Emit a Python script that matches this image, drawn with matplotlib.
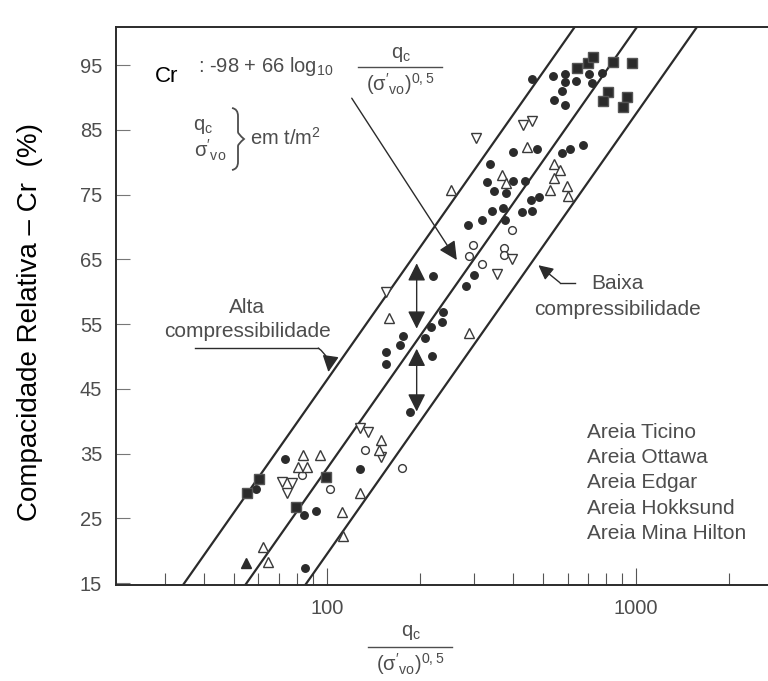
import numpy as np
import matplotlib.pyplot as plt
from matplotlib.ticker import FixedLocator, NullFormatter, FixedFormatter
from matplotlib.path import Path
from matplotlib.patches import PathPatch

plt.rcParams['font.family'] = ['Liberation Sans', 'DejaVu Sans']
plt.rcParams['mathtext.fontset'] = 'custom'
plt.rcParams['mathtext.rm'] = 'Liberation Sans'
plt.rcParams['mathtext.it'] = 'Liberation Sans:italic'
plt.rcParams['mathtext.sf'] = 'Liberation Sans'

# ---- dados ----
# Areia Ticino (circulo cheio)
ticino_x = [459, 540, 589, 589, 640, 706, 774, 719, 575, 544, 589,
            401, 477, 575, 611, 672, 337, 399, 437, 330, 348, 379,
            487, 456, 372, 341, 427, 462, 318, 285, 377,
            299, 282, 221, 238, 235, 217, 208, 176, 172, 155, 155, 218, 186,
            73.1, 58.9, 84.3, 92, 128, 84.9]
ticino_y = [92.9, 93.3, 93.7, 92.4, 92.6, 93.6, 93.8, 92.2, 91.0, 89.7, 88.8,
            81.6, 82.0, 81.4, 82.1, 82.6, 79.8, 77.1, 77.1, 77.0, 75.6, 75.2,
            74.6, 74.2, 72.9, 72.5, 72.3, 72.5, 71.1, 70.3, 71.1,
            62.6, 60.9, 62.5, 56.9, 55.4, 54.5, 52.8, 53.1, 51.8, 50.7, 48.8, 50.0, 41.5,
            34.2, 29.6, 25.5, 26.2, 32.6, 17.4]
# Areia Ottawa (circulo vazio)
ottawa_x = [398, 297, 287, 317, 375, 375, 82.8, 133, 175, 102]
ottawa_y = [69.5, 67.2, 65.5, 64.3, 66.8, 65.7, 31.7, 35.6, 32.7, 29.6]
# Areia Edgar (triangulo invertido vazio)
edgar_x = [304, 432, 460, 398, 354, 155, 71.3, 76.9, 74.1, 128, 136, 149]
edgar_y = [83.7, 85.7, 86.4, 65.1, 62.8, 60.0, 30.6, 30.4, 28.9, 38.9, 38.4, 34.4]
# Areia Hokksund (triangulo vazio)
hokk_x = [443, 367, 380, 252, 543, 568, 543, 527, 597, 604, 159, 287,
          83.8, 80.7, 85.9, 95, 62.2, 64.5, 149, 147, 128, 112, 112.4]
hokk_y = [82.3, 78.0, 76.8, 75.7, 79.8, 78.8, 77.5, 75.7, 76.3, 74.8, 55.9, 53.7,
          34.8, 32.9, 32.9, 34.8, 20.6, 18.3, 37.1, 35.5, 28.9, 26.0, 22.2]
# Areia Mina Hilton (quadrado cheio)
mina_x = [643, 698, 728, 841, 973, 813, 783, 937, 910, 55.2, 60.4, 79.4, 99]
mina_y = [94.6, 95.4, 96.2, 95.5, 95.4, 90.9, 89.4, 90.1, 88.6, 28.9, 31.0, 26.8, 31.4]
# triangulo cheio
extra_x = [54.7]
extra_y = [18.1]

# retas Cr = a + b log10(qc/sqrt(s'vo))
line_a = [-89.6, -103.3, -116.5]
line_b = 68.0

yticks = [15, 25, 35, 45, 55, 65, 75, 85, 95]
xmajor = [100, 1000]
xminor = [30, 40, 50, 60, 70, 80, 90, 200, 300, 400, 500, 600, 700, 800, 900, 2000]
legenda = ['Areia Ticino', 'Areia Ottawa', 'Areia Edgar', 'Areia Hokksund', 'Areia Mina Hilton']

W, H = 768, 681
gray = '#4d4d4d'
dark = '#2b2b2b'

fig = plt.figure(figsize=(W / 100, H / 100), dpi=100)
ax = fig.add_axes([116 / W, 1 - 585 / H, (W - 116) / W, (585 - 27) / H])


def fp(x, y):
    return (x / W, 1 - y / H)


ax.set_xscale('log')
ax.set_xlim(20.75, 2673)
ax.set_ylim(14.7, 100.9)

xs = np.logspace(1.2, 3.6, 300)
for a in line_a:
    ax.plot(xs, a + line_b * np.log10(xs), color=dark, lw=1.6, zorder=2)

ax.plot(ticino_x, ticino_y, 'o', ms=5.4, color=dark, mec=dark, zorder=4)
ax.plot(ottawa_x, ottawa_y, 'o', ms=5.6, mfc='white', mec='#3a3a3a', mew=1.0, zorder=4)
ax.plot(edgar_x, edgar_y, 'v', ms=7.5, mfc='white', mec='#3a3a3a', mew=1.0, zorder=4)
ax.plot(hokk_x, hokk_y, '^', ms=7.5, mfc='white', mec='#3a3a3a', mew=1.0, zorder=4)
ax.plot(mina_x, mina_y, 's', ms=6.8, color=dark, mec='#555555', zorder=4)
ax.plot(extra_x, extra_y, '^', ms=7.5, color=dark, zorder=4)

# eixos
for s in ['left', 'bottom', 'top']:
    ax.spines[s].set_color(dark)
    ax.spines[s].set_linewidth(1.4)
ax.spines['right'].set_visible(False)

ax.yaxis.set_major_locator(FixedLocator(yticks))
ax.yaxis.set_minor_locator(FixedLocator([]))
ax.xaxis.set_major_locator(FixedLocator(xmajor))
ax.xaxis.set_major_formatter(FixedFormatter([str(v) for v in xmajor]))
ax.xaxis.set_minor_locator(FixedLocator(xminor))
ax.xaxis.set_minor_formatter(NullFormatter())
ax.tick_params(axis='y', which='major', direction='in', length=10, width=0.8,
               color='#777777', labelsize=14.5, labelcolor=gray, pad=10)
ax.tick_params(axis='x', which='major', direction='in', length=12, width=0.8,
               color='#555555', labelsize=14.5, labelcolor=gray, pad=10)
ax.tick_params(axis='x', which='minor', direction='in', length=9, width=0.8,
               color='#555555')

# rotulo do eixo y
fig.text(*fp(30, 322), 'Compacidade Relativa \u2013 Cr  (%)', rotation=90,
         ha='center', va='center', fontsize=20, color='black')

# rotulo do eixo x (fracao)
fig.text(*fp(411, 633), r'$\mathrm{q_c}$', ha='center', va='center', fontsize=14.5, color=gray)
fig.add_artist(plt.Line2D([368 / W, 452 / W], [1 - 647 / H, 1 - 647 / H], color=gray, lw=1.0))
fig.text(*fp(410, 664), r"$\mathrm{(\sigma'_{vo})^{0,5}}$", ha='center', va='center',
         fontsize=14.5, color=gray)

# equacao
fig.text(*fp(155, 76), 'Cr', ha='left', va='center', fontsize=16, color='black')
fig.text(*fp(198, 67), r': -98 + 66 log$_{\mathrm{10}}$', ha='left', va='center',
         fontsize=14.5, color=gray)
fig.text(*fp(401, 55), r'$\mathrm{q_c}$', ha='center', va='center', fontsize=14.5, color=gray)
fig.add_artist(plt.Line2D([358 / W, 442 / W], [1 - 66.7 / H, 1 - 66.7 / H], color=gray, lw=1.0))
fig.text(*fp(400, 84), r"$\mathrm{(\sigma'_{vo})^{0,5}}$", ha='center', va='center',
         fontsize=14.5, color=gray)

# qc, s'vo em t/m2
fig.text(*fp(203, 127), r'$\mathrm{q_c}$', ha='center', va='center', fontsize=14.5, color=gray)
fig.text(*fp(210, 150), r"$\mathrm{\sigma'_{vo}}$", ha='center', va='center', fontsize=14.5, color=gray)
fig.text(*fp(250, 138), r'em t/m$^{\mathrm{2}}$', ha='left', va='center', fontsize=14.5, color=gray)
bx = [232, 238, 238, 238, 238, 244, 238, 238, 238, 238, 232]
by = [108, 109, 116, 132, 134, 139, 144, 146, 162, 169, 170]
verts = [fp(x, y) for x, y in zip(bx, by)]
codes = [Path.MOVETO, Path.CURVE3, Path.CURVE3, Path.LINETO, Path.CURVE3, Path.CURVE3,
         Path.CURVE3, Path.CURVE3, Path.LINETO, Path.CURVE3, Path.CURVE3]
fig.add_artist(PathPatch(Path(verts, codes), transform=fig.transFigure,
                         fill=False, ec=gray, lw=1.3))

# seta da equacao
ax.annotate('', xy=(263, 64.9), xytext=(120.2, 89.9),
            arrowprops=dict(arrowstyle='-|>', color=dark, lw=1.0, mutation_scale=28,
                            shrinkA=0, shrinkB=0))

# Alta compressibilidade
ax.text(55.1, 57.5, 'Alta', ha='center', va='center', fontsize=15, color=gray)
ax.text(55.1, 53.8, 'compressibilidade', ha='center', va='center', fontsize=15, color=gray)
ax.plot([37.4, 93.7], [51.3, 51.3], color=dark, lw=1.0)
ax.annotate('', xy=(101, 47.6), xytext=(93.7, 51.3),
            arrowprops=dict(arrowstyle='-|>', color=dark, lw=1.0, mutation_scale=25,
                            shrinkA=0, shrinkB=0, connectionstyle='arc3,rad=-0.3'))

# Baixa compressibilidade
ax.text(868, 61.2, 'Baixa', ha='center', va='center', fontsize=15, color=gray)
ax.text(868, 57.3, 'compressibilidade', ha='center', va='center', fontsize=15, color=gray)
ax.plot([635, 567], [61.4, 61.4], color=dark, lw=1.0)
ax.annotate('', xy=(483, 64.1), xytext=(567, 61.4),
            arrowprops=dict(arrowstyle='-|>', color=dark, lw=1.0, mutation_scale=22,
                            shrinkA=0, shrinkB=0))

# setas duplas
for y0, y1 in [(54.3, 64.4), (41.5, 51.2)]:
    ax.annotate('', xy=(195, y1), xytext=(195, y0),
                arrowprops=dict(arrowstyle='<|-|>', color=dark, lw=1.0, mutation_scale=27,
                                shrinkA=0, shrinkB=0))

# legenda (so texto)
for i, nome in enumerate(legenda):
    ax.text(693, 38.2 - 3.87 * i, nome, ha='left', va='center', fontsize=15, color=gray)

fig.savefig('out.png', dpi=100)
